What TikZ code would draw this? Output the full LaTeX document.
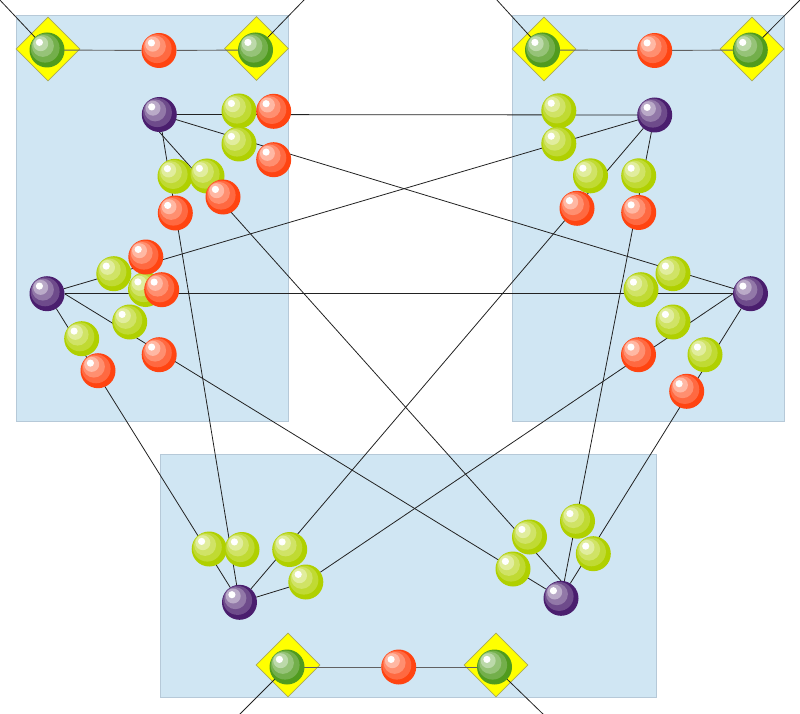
\documentclass[tikz,border=0pt]{standalone}
\usetikzlibrary{shapes.geometric,calc}
\definecolor{boxfill}{RGB}{208,230,243}
\definecolor{boxline}{RGB}{182,201,216}
\definecolor{cred}{RGB}{255,68,17}
\definecolor{clime}{RGB}{176,208,0}
\definecolor{cpurple}{RGB}{74,30,110}
\definecolor{cgreen}{RGB}{80,155,30}
\definecolor{cdia}{RGB}{255,255,0}
\definecolor{cdiaedge}{RGB}{170,170,90}
\definecolor{wirecol}{RGB}{34,34,34}
\pgfdeclarelayer{panels}
\pgfdeclarelayer{diamonds}
\pgfdeclarelayer{wires}
\pgfsetlayers{panels,diamonds,wires,main}
\tikzset{
  orbnode/.style={circle, minimum size=35pt, inner sep=0pt, outer sep=0pt, draw=none},
  diabox/.style={diamond, minimum width=64pt, minimum height=64pt, inner sep=0pt, fill=cdia, draw=cdiaedge, line width=0.6pt},
  panel/.style={fill=boxfill, draw=boxline, line width=1pt},
  wire/.style={draw=wirecol, line width=0.8pt},
  rowwire/.style={draw=black!62, line width=0.9pt},
}
\newcommand\orb[4]{%
  \node[orbnode, fill=#4] (#1) at (#2,#3) {};
  \fill[#4!80!white] ($(#1.center)+(-1.9,-1.9)$) circle[radius=14.5pt];
  \fill[#4!60!white] ($(#1.center)+(-4.1,-4.1)$) circle[radius=11pt];
  \fill[#4!38!white] ($(#1.center)+(-6.3,-6.3)$) circle[radius=7.5pt];
  \fill[white] ($(#1.center)+(-7.6,-7.6)$) circle[radius=3.6pt];
}
\begin{document}
\begin{tikzpicture}[x=1pt, y=-1pt]
\useasboundingbox (0,0) rectangle (800,714);
\clip (0,0) rectangle (800,714);
\begin{pgfonlayer}{panels}
  \path[panel] (16.5,16) rectangle (288,421.5);
  \path[panel] (512,16) rectangle (784,421.5);
  \path[panel] (160.5,454) rectangle (656,697);
\end{pgfonlayer}
\begin{pgfonlayer}{diamonds}
  \node[diabox] (dA1) at (48,49) {};
  \node[diabox] (dA2) at (256.5,48.5) {};
  \node[diabox] (dB1) at (544,49) {};
  \node[diabox] (dB2) at (752,49) {};
  \node[diabox] (dC1) at (288,665) {};
  \node[diabox] (dC2) at (496,665) {};
\end{pgfonlayer}
% top rows
\orb{gA1}{47}{50}{cgreen}
\orb{rA}{159}{50.5}{cred}
\orb{gA2}{255.5}{50}{cgreen}
\orb{gB1}{542.5}{50}{cgreen}
\orb{rB}{654.7}{50.5}{cred}
\orb{gB2}{750.3}{50}{cgreen}
% left box
\orb{P1}{159.3}{114.5}{cpurple}
\orb{L1}{239}{111}{clime}
\orb{R1}{273.7}{111.3}{cred}
\orb{L2}{239}{144}{clime}
\orb{R2}{273.7}{159.7}{cred}
\orb{L3}{175}{176.3}{clime}
\orb{L4}{207}{176}{clime}
\orb{R3}{223}{197}{cred}
\orb{R4}{175.3}{213}{cred}
\orb{P2}{47}{293.7}{cpurple}
\orb{M3}{145.5}{289.5}{clime}
\orb{M1}{113.8}{273.7}{clime}
\orb{M2}{145.8}{257}{cred}
\orb{M4}{161.7}{289.7}{cred}
\orb{M5}{129.7}{322}{clime}
\orb{M6}{159.2}{354.7}{cred}
\orb{M7}{81.7}{338.7}{clime}
\orb{M8}{98}{370.7}{cred}
% right box
\orb{Rl1}{558.8}{110.8}{clime}
\orb{Rl2}{558.8}{143.8}{clime}
\orb{Pr1}{654.7}{115}{cpurple}
\orb{Rl3}{590.5}{175.8}{clime}
\orb{Rl4}{638.7}{175.8}{clime}
\orb{Rr1}{577}{208.3}{cred}
\orb{Rr2}{638.7}{212.5}{cred}
\orb{Lr1}{673}{273.7}{clime}
\orb{Lr2}{641}{289.7}{clime}
\orb{Pr2}{750.5}{293.7}{cpurple}
\orb{Lr3}{673}{322}{clime}
\orb{Rrm1}{638.5}{354.7}{cred}
\orb{Lr4}{705}{354.7}{clime}
\orb{Rrm2}{686.7}{391.3}{cred}
% bottom box
\orb{BLl1}{209.2}{549}{clime}
\orb{BLl2}{242}{549.5}{clime}
\orb{BLl3}{289.7}{549.5}{clime}
\orb{BLl4}{305.8}{582}{clime}
\orb{BP1}{239.5}{602.3}{cpurple}
\orb{BRl3}{577.5}{521.2}{clime}
\orb{BRl1}{529.5}{537}{clime}
\orb{BRl2}{513}{569}{clime}
\orb{BRl4}{593.3}{553.7}{clime}
\orb{BP2}{561}{598.3}{cpurple}
\orb{gC1}{287}{667}{cgreen}
\orb{rC}{398.7}{667}{cred}
\orb{gC2}{494.5}{667}{cgreen}
% free ends of outer wires
\coordinate (xA1) at (-2,-2);
\coordinate (xA2) at (305,-1);
\coordinate (xB1) at (496,-1);
\coordinate (xB2) at (801,-1);
\coordinate (xC1) at (239,715);
\coordinate (xC2) at (544,715);
\begin{pgfonlayer}{wires}
  \draw[rowwire] (gA1.center) -- (rA) -- (gA2.center);
  \draw[rowwire] (gB1.center) -- (rB) -- (gB2.center);
  \draw[rowwire] (gC1.center) -- (rC) -- (gC2.center);
  \draw[wire] (gA1.center) -- (xA1);
  \draw[wire] (gA2.center) -- (xA2);
  \draw[wire] (gB1.center) -- (xB1);
  \draw[wire] (gB2.center) -- (xB2);
  \draw[wire] (gC1.center) -- (xC1);
  \draw[wire] (gC2.center) -- (xC2);
  \draw[wire] (P1) -- (Pr1);
  \draw[wire] (P1) -- (Pr2);
  \draw[wire] (P2) -- (Pr1);
  \draw[wire] (P2) -- (Pr2);
  \draw[wire] (P1) -- (BP1);
  \draw[wire] (P1.south) -- (BP2.north);
  \draw[wire] (P2) -- (BP1);
  \draw[wire] (P2.east) -- (BP2);
  \draw[wire] (Pr1) -- (BP1);
  \draw[wire] (Pr1) -- (BP2);
  \draw[wire] (Pr2.west) -- (BLl4) -- (BP1);
  \draw[wire] (Pr2) -- (BP2);
\end{pgfonlayer}
\end{tikzpicture}
\end{document}
